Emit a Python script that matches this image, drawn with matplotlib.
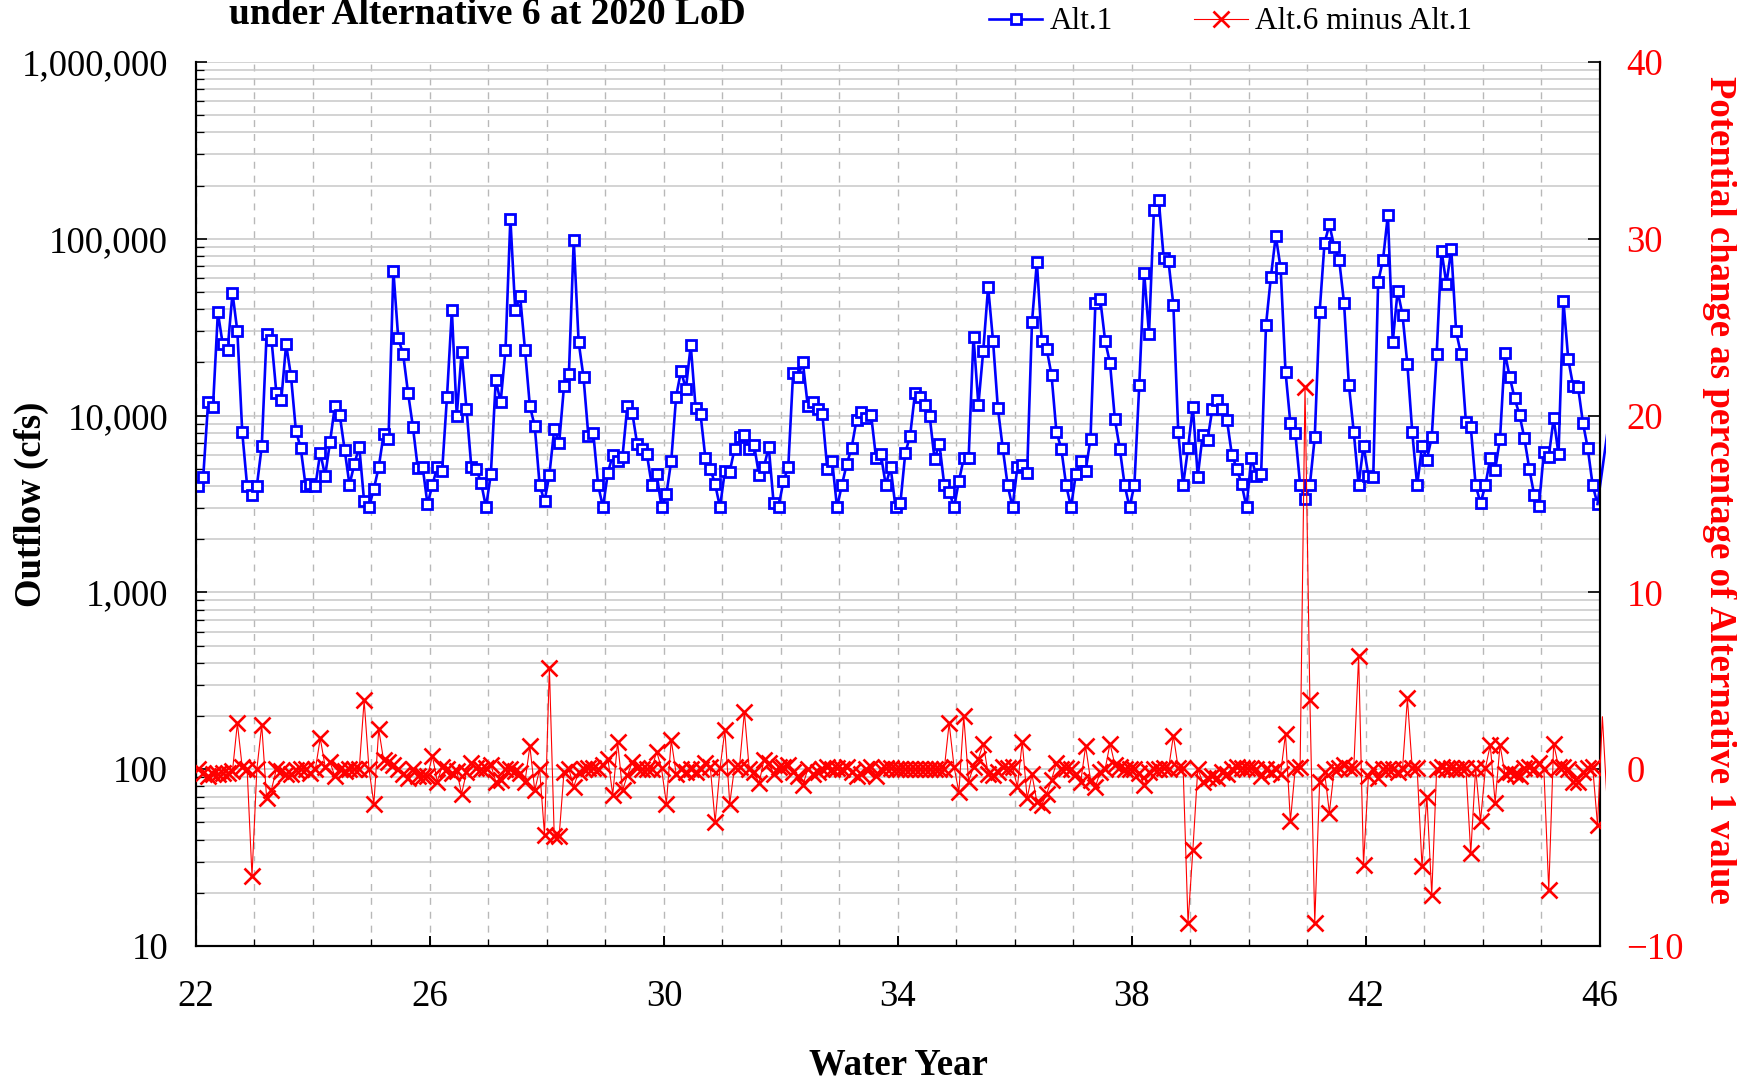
import numpy as np
import matplotlib.pyplot as plt
from matplotlib.ticker import FuncFormatter, LogLocator, MultipleLocator, NullFormatter
from matplotlib.transforms import Bbox, TransformedBbox

plt.rcParams['font.family'] = ['Liberation Serif', 'DejaVu Serif']

first_year = 22
last_year = 46

# Alt.1 monthly outflow (cfs), one row per water year 22..45
alt1_outflow = [
    4000, 4520, 11900, 11200, 38300, 25300, 23600, 49400, 29900, 8050, 4000, 3570,
    4000, 6700, 29000, 26900, 13400, 12200, 25300, 16700, 8220, 6530, 4000, 4100,
    4000, 6180, 4550, 7060, 11350, 10100, 6400, 4060, 5320, 6680, 3270, 3030,
    3850, 5120, 7830, 7340, 65900, 27300, 22300, 13500, 8670, 5060, 5130, 3150,
    4050, 5100, 4860, 12800, 39300, 10000, 22800, 10900, 5100, 5000, 4160, 3030,
    4680, 15900, 11900, 23600, 129800, 39300, 47500, 23500, 11300, 8710, 4050, 3270,
    4630, 8370, 6970, 14700, 17100, 98000, 26100, 16500, 7670, 8020, 4040, 3030,
    4760, 5960, 5530, 5860, 11400, 10400, 6920, 6510, 6040, 4050, 4700, 3030,
    3590, 5560, 12800, 17900, 14100, 25000, 11000, 10200, 5760, 5010, 4090, 3030,
    4860, 4820, 6510, 7600, 7780, 6510, 6790, 4610, 5100, 6650, 3190, 3030,
    4250, 5100, 17500, 16600, 20000, 11350, 11900, 10950, 10200, 5010, 5560, 3030,
    4040, 5320, 6570, 9450, 10500, 9750, 10050, 5780, 6040, 4040, 5100, 3030,
    3190, 6120, 7710, 13400, 12800, 11500, 10000, 5670, 6920, 4050, 3720, 3030,
    4250, 5740, 5740, 28000, 11500, 23300, 53500, 26500, 11000, 6530, 4040, 3030,
    5100, 5240, 4720, 33900, 73800, 26500, 23900, 17000, 8110, 6510, 4040, 3030,
    4680, 5530, 4860, 7410, 43300, 45500, 26500, 19800, 9520, 6510, 4040, 3030,
    4040, 14900, 64400, 29000, 144500, 166000, 78300, 74500, 42000, 8050, 4040, 6550,
    11150, 4520, 7750, 7310, 10900, 12300, 10850, 9380, 6000, 5010, 4090, 3030,
    5780, 4550, 4680, 32600, 60700, 104000, 68200, 17700, 9060, 8020, 4040, 3360,
    4060, 7560, 38600, 94500, 120500, 89700, 76100, 43600, 14900, 8050, 4060, 6760,
    4570, 4520, 56900, 76100, 136700, 26100, 50800, 37100, 19500, 8050, 4040, 6700,
    5630, 7560, 22200, 85500, 55600, 87000, 29900, 22200, 9250, 8630, 4040, 3190,
    4040, 5740, 4920, 7410, 22600, 16500, 12500, 10100, 7440, 5010, 3560, 3100,
    6230, 5860, 9660, 6040, 44700, 20800, 14700, 14600, 9120, 6530, 4040, 3160,
]

# Alt.6 minus Alt.1, as percent of the Alt.1 value
alt6_minus_alt1 = [
    0, -0.2, -0.4, -0.3, -0.3, -0.2, -0.2, -0.1, 2.6, 0.1, 0, -6.05,
    0, 2.5, -1.65, -1.15, 0, -0.1, -0.25, -0.3, -0.05, 0, 0, -0.2,
    0, 1.75, 0.15, 0.4, -0.4, 0, -0.1, 0, 0, 0, 3.9, 0,
    -1.95, 2.25, 0.5, 0.4, 0.25, 0, -0.3, -0.5, 0, -0.4, -0.4, -0.4,
    0.75, -0.7, 0.15, 0, -0.2, -0.1, -1.4, -0.15, 0.35, 0.05, 0, 0.05,
    0.25, -0.7, -0.6, 0, 0, -0.1, -0.2, -0.7, 1.3, -1.2, 0, -3.7,
    5.75, -3.8, -3.8, -0.15, 0, -1.0, -0.15, 0, 0.05, 0.05, 0, 0.25,
    0.6, -1.45, 1.55, -1.2, -0.35, 0.4, 0.05, 0, 0, 0, 1.0, 0.05,
    -1.95, 1.65, -0.25, 0, -0.15, 0, -0.15, 0, 0.35, 0.15, -3.0, 0.05,
    2.2, -1.95, 0.15, 0.15, 3.25, 0, -0.15, -0.8, 0.5, 0.35, -0.25, 0.15,
    0.15, 0.25, -0.15, -0.4, -0.9, 0, -0.25, -0.15, 0, 0.15, 0, 0.05,
    0, 0.15, -0.15, -0.4, -0.25, 0, 0.15, -0.4, 0, 0.05, 0.05, 0,
    0, 0, 0, 0, 0, 0, 0, 0, 0, 0, 2.6, 0.15,
    -1.3, 3.0, -0.7, 0.15, 0.6, 1.45, -0.25, -0.35, -0.15, 0.15, 0.05, 0.15,
    -1.0, 1.55, -1.65, -0.3, -1.85, -2.0, -1.4, -0.6, 0.35, 0, 0.05, 0,
    -0.3, -0.7, 1.3, -0.6, -1.0, -0.15, 0, 1.45, 0.25, 0.15, 0, 0,
    0, -0.2, -0.9, -0.15, 0, 0, 0.05, 0, 1.9, 0.05, 0.05, -8.7,
    -4.55, 0, -0.7, -0.5, -0.4, -0.5, -0.15, -0.25, 0, 0.15, 0.05, 0.05,
    0.05, 0, -0.4, 0, -0.15, 0, -0.25, 2.0, -2.95, 0.05, 0.15, 21.6,
    3.9, -8.7, -0.7, -0.15, -2.45, 0, 0.05, 0.25, 0.05, 0.05, 6.4, -5.4,
    -0.4, 0, -0.5, 0, 0, 0, -0.15, 0, 4.0, 0.05, 0.05, -5.5,
    -1.55, -7.1, 0, 0.15, 0, 0.05, 0, 0.05, 0.05, -4.75, 0.05, -2.95,
    0.05, 1.37, -1.9, 1.37, -0.25, -0.15, -0.25, -0.4, 0.05, 0.15, 0, 0.35,
    0, -6.85, 1.45, 0.15, 0.15, 0, -0.7, -0.7, -0.15, 0.05, 0.15, -3.15,
]

# first months of the next water year (run past the right axis)
alt1_tail = [5000, 7900]
diff_tail = [2.97, -2.0]

n = len(alt1_outflow)
months = first_year + (np.arange(n + len(alt1_tail)) + 0.5) / 12
x = months[:n]

fig = plt.figure(figsize=(17.37, 10.83), dpi=100)
ax = fig.add_axes([0.1128, 0.1265, 0.8083, 0.8163])
ax2 = ax.twinx()

l1, = ax.plot(x, alt1_outflow, color='blue', lw=1.9, marker='s', ms=6.6,
              mfc='white', mec='blue', mew=2.0, label='Alt.1', zorder=3)
l2, = ax2.plot(x, alt6_minus_alt1, color='red', lw=0.8, marker='x', ms=11.5,
               mew=1.9, label='Alt.6 minus Alt.1', zorder=3)

# the lines run a few pixels past the right axis
clip = TransformedBbox(Bbox([[0, 0], [1.0045, 1]]), ax.transAxes)
t1, = ax.plot(months[n - 1:], [alt1_outflow[-1]] + alt1_tail, color='blue', lw=1.9, zorder=3)
t2, = ax2.plot(months[n - 1:], [alt6_minus_alt1[-1]] + diff_tail, color='red', lw=0.8, zorder=3)
t1.set_clip_box(clip)
t2.set_clip_box(clip)

ax.set_yscale('log')
ax.set_ylim(10, 1e6)
ax.set_xlim(first_year, last_year)
ax.set_xticks(range(first_year, last_year + 1, 4))
ax.xaxis.set_minor_locator(MultipleLocator(1))
ax.yaxis.set_major_formatter(FuncFormatter(lambda v, p: f'{v:,.0f}'))
ax.yaxis.set_minor_locator(LogLocator(base=10, subs=np.arange(2, 10) * 1.0, numticks=20))
ax.yaxis.set_minor_formatter(NullFormatter())

ax.tick_params(axis='both', which='both', direction='in')
ax.tick_params(axis='y', which='major', length=8, width=1.2, labelsize=26.5, pad=20)
ax.tick_params(axis='y', which='minor', length=6, width=0.9)
ax.tick_params(axis='x', which='major', length=7, width=1.4, labelsize=26.5, pad=24)
ax.tick_params(axis='x', which='minor', length=5, width=0.9)

ax.set_axisbelow(True)
ax.yaxis.grid(True, which='major', color='#c8c8c8', lw=1.1)
ax.yaxis.grid(True, which='minor', color='#c8c8c8', lw=1.1)
ax.xaxis.grid(True, which='major', color='#b8b8b8', lw=1.0, ls=(0, (5, 5)))
ax.xaxis.grid(True, which='minor', color='#b8b8b8', lw=1.0, ls=(0, (5, 5)))

ax2.set_ylim(-10, 40)
ax2.set_yticks(range(-10, 41, 10))
ax2.yaxis.set_minor_locator(plt.NullLocator())
ax2.tick_params(axis='y', direction='in', length=9, width=1.2, labelsize=26.5,
                labelcolor='red', pad=19)

for a in (ax, ax2):
    a.spines['top'].set_visible(False)
    for s in ('left', 'right', 'bottom'):
        a.spines[s].set_linewidth(1.5)

fig.text(31 / 1737, 0.5346, 'Outflow (cfs)', rotation=90, fontsize=26.5,
         fontweight='bold', ha='center', va='center')
fig.text(1719 / 1737, 0.548, 'Potential change as percentage of Alternative 1 value',
         rotation=270, fontsize=26.5, fontweight='bold', color='red',
         ha='center', va='center')
fig.text(0.517, 0.0165, 'Water Year', fontsize=26.5, fontweight='bold',
         ha='center', va='center')
fig.text(229 / 1737, 1 - 24 / 1083, 'under Alternative 6 at 2020 LoD', fontsize=27,
         fontweight='bold', ha='left', va='baseline')

fig.legend(handles=[l1, l2], loc='center left', bbox_to_anchor=(0.5694, 0.9797),
           ncol=2, frameon=False, fontsize=22.5, handlelength=1.7,
           columnspacing=2.6, handletextpad=0.25, borderaxespad=0, borderpad=0)

fig.savefig('out.png', dpi=100)
